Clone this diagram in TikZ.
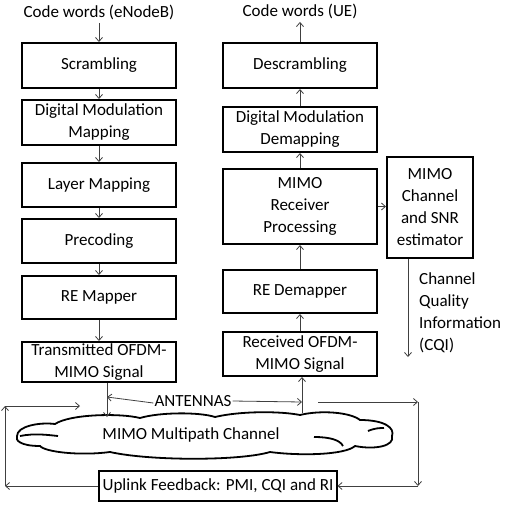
\documentclass[tikz,border=0pt]{standalone}
\usepackage{fontspec}
\setmainfont{Carlito}
\usetikzlibrary{arrows.meta,positioning}

\begin{document}
\begin{tikzpicture}[x=1pt, y=-1pt, >={Straight Barb[length=4pt,width=7pt]},
  font=\fontsize{17}{22}\selectfont,
  blk/.style={draw, line width=2pt, minimum width=154pt, align=center, inner sep=1pt},
  ln/.style={->, line width=0.8pt, black!75}]
  \useasboundingbox (0,0) rectangle (505,507);
  \node (cwe) at (99,12) {Code words (eNodeB)};
  \node (cwu) at (300,11) {Code words (UE)};
  % transmitter chain
  \node[blk, minimum height=45pt] (scr) at (99,65.5) {Scrambling};
  \node[blk, minimum height=45pt] (dmm) at (99,122.5) {Digital Modulation\\Mapping};
  \node[blk, minimum height=44pt] (lay) at (99,185) {Layer Mapping};
  \node[blk, minimum height=44pt] (pre) at (99,241) {Precoding};
  \node[blk, minimum height=43pt] (rem) at (99,297.5) {RE Mapper};
  \node[blk, minimum height=40pt] (tx) at (99,362) {Transmitted OFDM-\\MIMO Signal};
  % receiver chain
  \node[blk, minimum height=45pt] (des) at (300,65.5) {Descrambling};
  \node[blk, minimum height=45pt] (dmd) at (300,129.5) {Digital Modulation\\Demapping};
  \node[blk, minimum height=75pt] (mrp) at (300,206.5) {MIMO\\Receiver\\Processing};
  \node[blk, minimum height=43pt] (red) at (300,291.5) {RE Demapper};
  \node[blk, minimum height=44pt] (rx) at (300,354) {Received OFDM-\\MIMO Signal};
  \node[blk, minimum width=86pt, minimum height=101pt] (est) at (430,207.5) {MIMO\\Channel\\and SNR\\estimator};
  \node[align=left, anchor=north west, inner sep=0pt] (cqit) at (419,272) {Channel\\Quality\\Information\\(CQI)};
  % channel cloud
  \draw[line width=1.8pt] (17,436) .. controls (17,426) and (40,422) .. (55,424)
    .. controls (70,414) and (120,413) .. (140,418)
    .. controls (160,412) and (200,412) .. (215,417)
    .. controls (240,411) and (280,411) .. (300,415)
    .. controls (320,410) and (350,412) .. (360,420)
    .. controls (385,420) and (395,428) .. (392,436)
    .. controls (395,446) and (375,450) .. (355,446)
    .. controls (345,455) and (300,456) .. (270,452)
    .. controls (240,461) and (150,461) .. (110,452)
    .. controls (80,456) and (45,452) .. (40,446)
    .. controls (20,446) and (15,440) .. (17,436) -- cycle;
  \draw[line width=1.8pt] (20,436) .. controls (35,433) and (48,435) .. (58,436);
  \draw[line width=1.8pt] (368,431) .. controls (375,428) and (380,428) .. (384,428);
  \draw[line width=1.8pt] (314,437) .. controls (330,437) and (340,440) .. (343,446);
  \node (chant) at (191,435) {MIMO Multipath Channel};
  \node[fill=white, inner sep=1pt] (ant) at (193,401) {ANTENNAS};
  \node[draw, line width=1.6pt, minimum width=233pt, minimum height=30pt] (fb) at (218,486)
    {Uplink Feedback: PMI, CQI and RI};
  \coordinate (txa) at (107,417);
  \coordinate (txm) at (107,397);
  \coordinate (rxa) at (302,413);
  \coordinate (rxm) at (302,402);
  \coordinate (cqi) at (408,357);
  \coordinate (r1) at (318,402);
  \coordinate (r2) at (418,402);
  \coordinate (r3) at (418,486);
  \coordinate (l1) at (5,486);
  \coordinate (l2) at (5,406);
  \coordinate (l3) at (80,406);
  % connectors
  \draw[ln] (cwe) -- (scr);
  \draw[ln] (scr) -- (dmm);
  \draw[ln] (dmm) -- (lay);
  \draw[ln] (lay) -- (pre);
  \draw[ln] (pre) -- (rem);
  \draw[ln] (rem) -- (tx);
  \draw[ln] ([xshift=8pt]tx.south) -- (txa);
  \draw[ln] (rx) -- (red);
  \draw[ln] (red) -- (mrp);
  \draw[ln] (mrp) -- (dmd);
  \draw[ln] (dmd) -- (des);
  \draw[ln] (des) -- (cwu);
  \draw[ln] (mrp.east) -- (mrp.east -| est.west);
  \draw[ln] ([xshift=-22pt]est.south) -- (cqi);
  \draw[ln] (rxa) -- (rxa |- rx.south);
  \draw[ln] ([yshift=-2pt]ant.west) -- (txm);
  \draw[ln] (ant.east) -- (rxm);
  \draw[ln] (r1) -- (r2);
  \draw[ln] (r2) -- (r3);
  \draw[ln] (r3) -- (fb.east);
  \draw[ln] (fb.west) -- (l1);
  \draw[ln] (l1) -- (l2);
  \draw[ln] (l2) -- (l3);
\end{tikzpicture}
\end{document}
